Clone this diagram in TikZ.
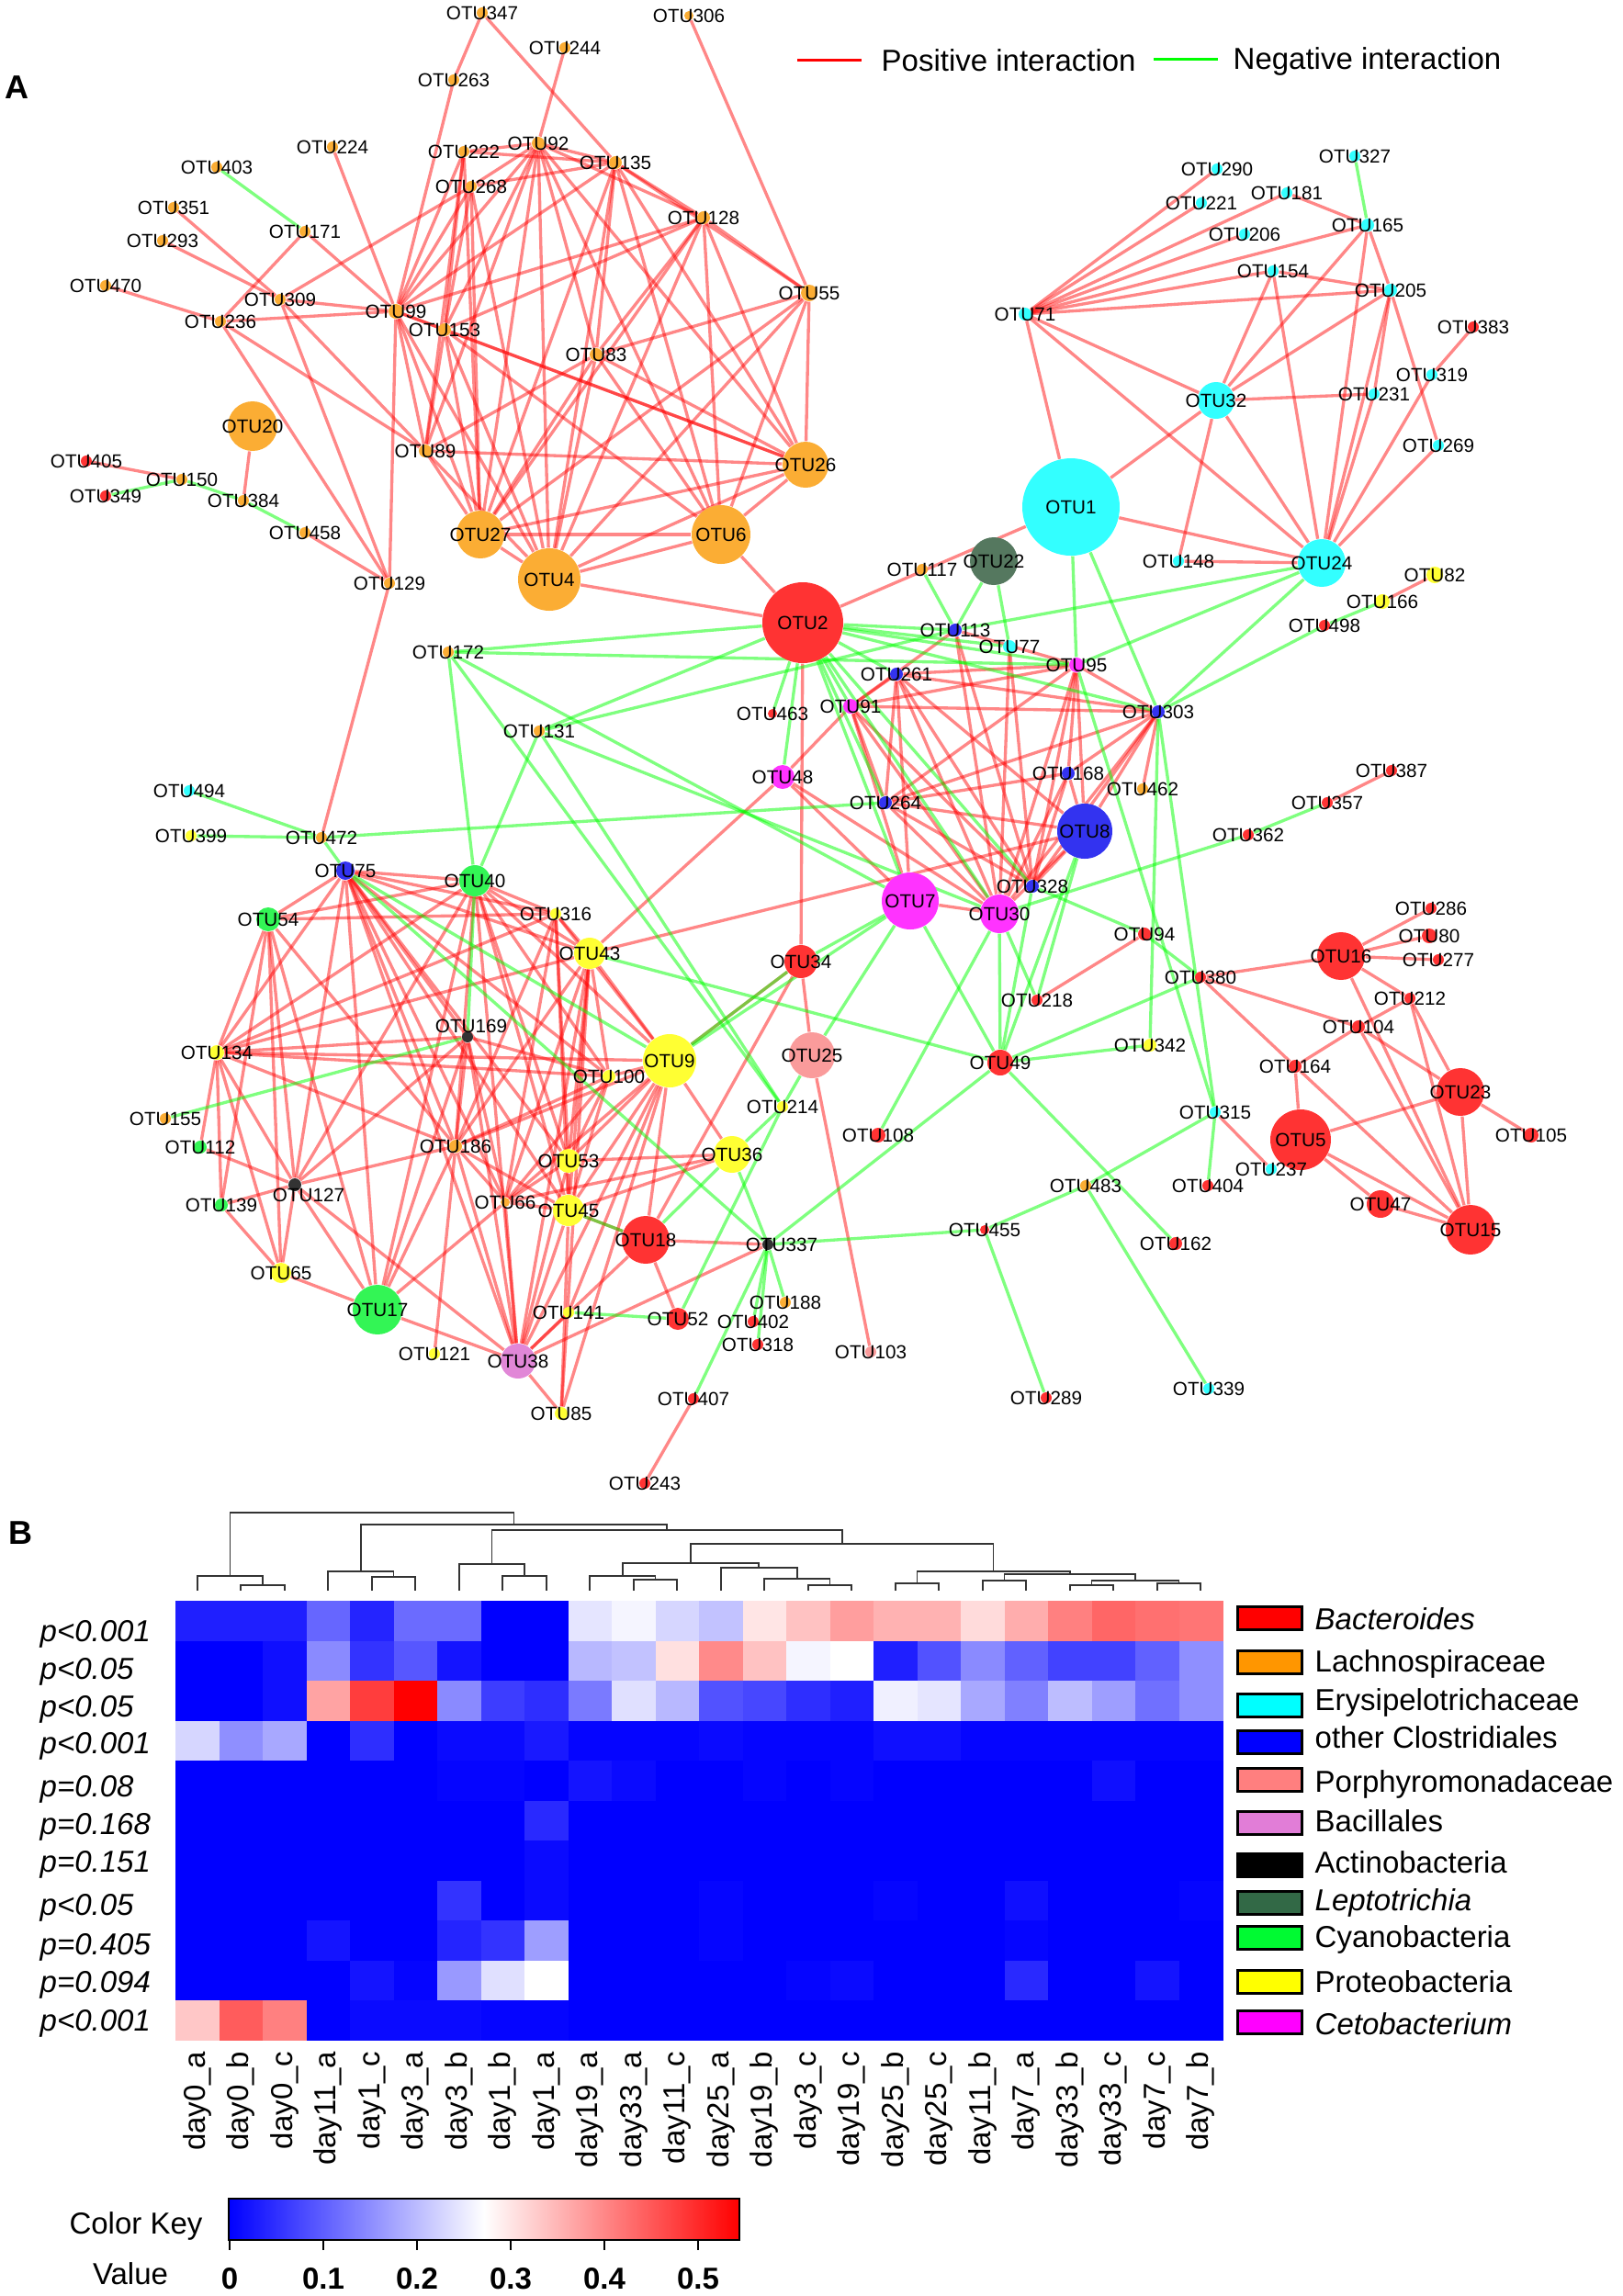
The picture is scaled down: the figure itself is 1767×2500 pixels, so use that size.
\documentclass[tikz,border=0pt]{standalone}
\usepackage{fontspec}
\setmainfont{Liberation Sans}
\pgfdeclarelayer{background}
\pgfsetlayers{background,main}
\definecolor{cRd}{RGB}{255,51,51}
\definecolor{cOr}{RGB}{251,173,52}
\definecolor{cCy}{RGB}{51,255,255}
\definecolor{cBl}{RGB}{51,51,240}
\definecolor{cMg}{RGB}{255,51,255}
\definecolor{cYe}{RGB}{255,255,51}
\definecolor{cGr}{RGB}{51,245,85}
\definecolor{cBk}{RGB}{51,51,51}
\definecolor{cPk}{RGB}{250,155,155}
\definecolor{cOc}{RGB}{225,135,215}
\definecolor{cDg}{RGB}{85,120,95}
\definecolor{lgOr}{RGB}{255,150,0}
\definecolor{lgCy}{RGB}{0,255,255}
\definecolor{lgBl}{RGB}{0,0,255}
\definecolor{lgPo}{RGB}{255,127,127}
\definecolor{lgBa}{RGB}{225,125,215}
\definecolor{lgLe}{RGB}{50,105,70}
\definecolor{lgCb}{RGB}{0,250,50}
\definecolor{lgPr}{RGB}{255,255,0}
\definecolor{lgCe}{RGB}{255,0,255}
\definecolor{lgRd}{RGB}{255,0,0}
\newcommand\otufont{\fontsize{6.2}{7}\selectfont}
\newcommand\legfont{\fontsize{9.9}{11}\selectfont}
\newcommand\panelfont{\fontsize{10.8}{12}\selectfont\bfseries}
\newcommand\otu[5]{\node[circle,inner sep=0pt,minimum size={0.6pt*#4},fill=#5] (o#1) at (#2,#3) {};
  \node[otulab] at (o#1.center) {OTU#1};}
\newcommand\otuS[7]{\node[circle,inner sep=0pt,minimum size={0.6pt*#4},fill=#5] (o#1) at (#2,#3) {};
  \node[otulab,xshift=#6,yshift=#7] at (o#1.center) {OTU#1};}
\newcommand\dendj[5]{\draw[dendro] (#1,#2) -- (#1,#5) -- (#3,#5) -- (#3,#4);}
\begin{document}
\begin{tikzpicture}[x=0.3pt,y=-0.3pt,
  otulab/.style={font=\otufont,inner sep=0pt},
  posedge/.style={draw=red,draw opacity=0.47,line width=1.0pt},
  negedge/.style={draw=green,draw opacity=0.5,line width=1.0pt},
  dendro/.style={draw=black!80,line width=0.5pt}]
\useasboundingbox (0,0) rectangle (1767,2500);

% ---------- panel labels and legend ----------
\node[font=\panelfont,anchor=base west,inner sep=0] (pA) at (5,107) {A};
\node[font=\panelfont,anchor=base west,inner sep=0] (pB) at (9,1681) {B};
\coordinate (lp1) at (868,65); \coordinate (lp2) at (938,65);
\draw[red,line width=0.9pt] (lp1) -- (lp2);
\node[font=\legfont,anchor=base west,inner sep=0] (lpt) at (959,77) {Positive interaction};
\coordinate (ln1) at (1256,64); \coordinate (ln2) at (1326,64);
\draw[green,line width=0.9pt] (ln1) -- (ln2);
\node[font=\legfont,anchor=base west,inner sep=0] (lnt) at (1342,75) {Negative interaction};

% ---------- nodes ----------
% Lachnospiraceae
\otu{347}{525}{14}{6}{cOr}
\otu{263}{494}{87}{6}{cOr}
\otu{224}{362}{160}{6}{cOr}
\otu{403}{236}{182}{6}{cOr}
\otu{351}{189}{226}{6}{cOr}
\otu{293}{177}{262}{6}{cOr}
\otu{171}{332}{252}{6}{cOr}
\otu{470}{115}{311}{6}{cOr}
\otu{309}{305}{326}{6}{cOr}
\otu{236}{240}{350}{6}{cOr}
\otu{99}{431}{339}{8}{cOr}
\otu{153}{484}{359}{7}{cOr}
\otu{222}{505}{165}{6}{cOr}
\otu{268}{513}{203}{6}{cOr}
\otu{20}{275}{464}{27}{cOr}
\otu{89}{463}{491}{7}{cOr}
\otu{150}{198}{522}{6}{cOr}
\otu{384}{265}{545}{6}{cOr}
\otu{306}{750}{17}{5}{cOr}
\otu{244}{615}{52}{6}{cOr}
\otu{92}{586}{156}{7}{cOr}
\otu{135}{670}{177}{7}{cOr}
\otu{128}{766}{237}{7}{cOr}
\otu{55}{881}{319}{9}{cOr}
\otu{83}{649}{386}{7}{cOr}
\otu{26}{877}{506}{25}{cOr}
\otu{27}{523}{582}{26}{cOr}
\otu{6}{785}{582}{32}{cOr}
\otu{4}{598}{631}{34}{cOr}
\otu{458}{332}{580}{6}{cOr}
\otu{129}{424}{635}{6}{cOr}
\otu{172}{488}{710}{6}{cOr}
\otu{131}{587}{796}{6}{cOr}
\otu{472}{350}{912}{6}{cOr}
\otu{117}{1004}{620}{6}{cOr}
\otu{462}{1244}{859}{6}{cOr}
\otu{155}{180}{1218}{6}{cOr}
\otu{186}{496}{1248}{7}{cOr}
\otu{188}{855}{1418}{6}{cOr}
\otu{483}{1182}{1291}{6}{cOr}
\otu{66}{550}{1309}{5}{cOr}
% Bacteroides
\otu{405}{94}{502}{6}{cRd}
\otu{349}{115}{540}{6}{cRd}
\otu{383}{1604}{356}{6}{cRd}
\otu{498}{1442}{681}{6}{cRd}
\otu{387}{1515}{839}{6}{cRd}
\otu{357}{1445}{874}{6}{cRd}
\otu{362}{1359}{909}{6}{cRd}
\otu{286}{1558}{989}{6}{cRd}
\otu{80}{1556}{1019}{8}{cRd}
\otu{277}{1566}{1045}{6}{cRd}
\otu{16}{1460}{1041}{26}{cRd}
\otu{94}{1246}{1017}{7}{cRd}
\otu{380}{1307}{1064}{6}{cRd}
\otu{463}{841}{777}{5}{cRd}
\otu{34}{872}{1047}{18}{cRd}
\otu{218}{1129}{1089}{6}{cRd}
\otu{49}{1089}{1157}{14}{cRd}
\otu{108}{956}{1236}{8}{cRd}
\otu{18}{703}{1350}{26}{cRd}
\otu{52}{738}{1436}{12}{cRd}
\otu{402}{820}{1439}{6}{cRd}
\otu{318}{825}{1464}{6}{cRd}
\otu{407}{755}{1523}{6}{cRd}
\otu{243}{702}{1615}{6}{cRd}
\otu{289}{1139}{1522}{6}{cRd}
\otu{455}{1072}{1339}{5}{cRd}
\otu{212}{1535}{1087}{6}{cRd}
\otu{104}{1479}{1118}{7}{cRd}
\otu{164}{1410}{1161}{7}{cRd}
\otu{23}{1590}{1189}{26}{cRd}
\otu{5}{1416}{1241}{33}{cRd}
\otu{105}{1667}{1236}{8}{cRd}
\otu{404}{1315}{1291}{6}{cRd}
\otu{47}{1503}{1311}{15}{cRd}
\otu{15}{1601}{1339}{27}{cRd}
\otu{162}{1280}{1354}{7}{cRd}
% Erysipelotrichaceae
\otu{71}{1116}{342}{7}{cCy}
\otu{290}{1325}{184}{6}{cCy}
\otu{221}{1308}{221}{6}{cCy}
\otu{181}{1401}{210}{6}{cCy}
\otu{327}{1475}{170}{6}{cCy}
\otu{165}{1489}{245}{7}{cCy}
\otu{206}{1355}{255}{6}{cCy}
\otu{154}{1386}{295}{6}{cCy}
\otu{205}{1514}{316}{7}{cCy}
\otu{319}{1559}{408}{6}{cCy}
\otu{32}{1324}{436}{20}{cCy}
\otu{231}{1496}{429}{6}{cCy}
\otu{269}{1566}{485}{6}{cCy}
\otu{148}{1283}{611}{6}{cCy}
\otu{24}{1439}{613}{26}{cCy}
\otu{77}{1099}{704}{7}{cCy}
\otu{494}{206}{861}{6}{cCy}
\otu{315}{1323}{1211}{6}{cCy}
\otu{237}{1384}{1273}{6}{cCy}
\otu{339}{1316}{1512}{6}{cCy}
\otu{1}{1166}{552}{53}{cCy}
% other Clostridiales
\otu{113}{1040}{686}{7}{cBl}
\otu{261}{976}{734}{7}{cBl}
\otu{303}{1261}{775}{7}{cBl}
\otu{168}{1163}{842}{7}{cBl}
\otu{264}{964}{874}{7}{cBl}
\otu{328}{1124}{965}{7}{cBl}
\otu{75}{376}{948}{10}{cBl}
\otu{8}{1181}{905}{30}{cBl}
% Cetobacterium
\otu{95}{1172}{724}{8}{cMg}
\otu{91}{926}{769}{8}{cMg}
\otu{48}{852}{846}{13}{cMg}
\otu{7}{991}{981}{31}{cMg}
\otu{30}{1088}{995}{21}{cMg}
% Proteobacteria
\otu{82}{1562}{626}{9}{cYe}
\otu{166}{1505}{655}{8}{cYe}
\otu{399}{208}{910}{6}{cYe}
\otu{316}{605}{995}{6}{cYe}
\otu{43}{642}{1038}{17}{cYe}
\otu{9}{729}{1155}{29}{cYe}
\otu{100}{663}{1172}{7}{cYe}
\otu{214}{852}{1205}{6}{cYe}
\otu{36}{797}{1257}{20}{cYe}
\otu{53}{619}{1264}{13}{cYe}
\otu{45}{619}{1318}{17}{cYe}
\otu{342}{1252}{1138}{7}{cYe}
\otu{134}{236}{1146}{8}{cYe}
\otu{65}{306}{1386}{11}{cYe}
\otu{121}{473}{1474}{6}{cYe}
\otu{85}{611}{1539}{7}{cYe}
\otu{141}{619}{1429}{6}{cYe}
% Cyanobacteria
\otu{40}{517}{959}{17}{cGr}
\otu{54}{292}{1001}{13}{cGr}
\otu{17}{411}{1426}{27}{cGr}
\otu{112}{218}{1249}{7}{cGr}
\otu{139}{241}{1312}{7}{cGr}
% Actinobacteria
\otuS{169}{509}{1129}{6}{cBk}{1.2pt}{3.6pt}
\otuS{127}{321}{1290}{7}{cBk}{4.5pt}{-3.3pt}
\otuS{337}{836}{1355}{6}{cBk}{4.5pt}{0pt}
% Porphyromonadaceae, Bacillales, Leptotrichia
\otu{25}{884}{1149}{25}{cPk}
\otu{103}{948}{1472}{6}{cPk}
\otu{38}{564}{1482}{19}{cOc}
\otu{22}{1082}{611}{26}{cDg}
\otu{2}{874}{678}{44}{cRd}

% ---------- edges ----------
\begin{pgfonlayer}{background}
\foreach \a/\b in {347/263,347/135,263/99,224/99,351/309,293/309,171/236,171/99,470/236,236/99,309/99,309/268,236/129,309/129,99/129,309/89,236/89,458/129,129/472,244/92,306/55,20/384,405/150,
99/222,99/268,99/92,99/135,99/128,99/89,99/27,99/4,99/153,99/26,
222/92,222/135,222/153,222/89,222/27,
268/92,268/135,268/153,268/27,268/4,
92/135,92/128,92/83,92/26,92/6,92/4,92/27,92/89,92/153,
135/128,135/55,135/83,135/26,135/6,135/4,135/27,
128/55,128/83,128/4,128/27,128/6,128/26,128/153,
55/26,55/83,55/4,55/27,55/6,
83/26,83/6,83/4,83/27,83/89,
153/26,153/6,153/4,153/27,153/89,
89/26,89/27,89/4,
26/4,26/6,26/27,6/4,6/27,4/27,4/2,6/2,2/1,
71/290,71/221,71/181,71/206,71/165,71/154,71/205,71/32,71/24,71/1,181/165,154/205,165/32,165/205,165/24,154/32,154/24,205/32,205/24,205/231,205/269,32/231,32/1,32/24,32/148,383/319,319/24,231/24,269/24,1/24,148/24,166/82,
16/286,16/80,16/277,16/380,16/212,16/15,380/104,380/164,212/104,212/23,212/15,104/164,104/23,104/15,164/5,164/15,23/5,23/15,23/105,5/47,5/15,47/15,315/237,357/387,94/218,
2/34,95/261,95/91,95/264,95/303,95/168,95/8,95/328,95/30,303/261,303/91,303/264,303/168,303/8,303/328,303/30,303/462,261/91,261/264,261/328,261/30,261/7,261/8,91/264,91/328,91/30,91/7,91/48,264/328,264/30,264/8,264/168,168/328,168/30,168/8,113/91,113/328,113/30,113/95,77/30,77/328,48/30,48/7,48/43,43/8,7/30,328/8,30/8,34/25,34/9,34/18,25/103,407/243,18/52,18/337,38/337,
75/40,75/54,75/316,75/43,75/134,75/127,75/186,75/66,75/100,75/53,75/45,75/17,75/38,75/169,
40/54,40/316,40/43,40/134,40/127,40/186,40/100,40/9,40/53,40/45,40/17,40/38,
54/134,54/127,54/139,54/65,54/17,54/316,54/186,
316/43,316/134,316/9,316/53,316/186,316/66,316/45,
43/9,43/100,43/134,43/53,43/45,43/186,43/66,43/38,
134/112,134/139,134/127,134/169,134/100,134/9,134/186,134/65,
169/100,169/186,169/66,169/17,169/38,169/127,
100/9,100/53,100/45,100/186,100/66,
9/36,9/53,9/45,9/38,9/18,9/141,9/66,9/186,
112/127,139/127,139/65,127/186,127/17,127/38,127/65,
186/66,186/17,186/38,186/121,186/45,
66/38,66/45,66/17,66/53,66/36,
53/36,53/45,53/38,45/36,45/38,45/85,45/18,
65/17,17/38,38/141,38/18,38/85,43/85,9/85}
  \draw[posedge] (o\a) -- (o\b);
\foreach \a/\b in {403/171,349/150,150/384,384/458,327/165,472/494,472/399,472/75,472/264,
172/2,172/95,172/40,172/7,172/214,131/2,131/113,131/40,131/214,131/30,
2/113,2/77,2/95,2/303,2/91,2/48,2/264,2/7,2/30,2/328,2/261,2/463,
117/113,22/113,22/77,1/95,1/303,24/95,24/113,24/303,166/498,498/303,
75/9,75/337,40/169,169/155,43/49,45/18,9/34,9/7,25/7,25/214,36/214,36/18,36/337,
337/455,337/49,337/188,337/402,337/318,337/407,455/483,455/289,483/315,483/339,49/162,
315/404,303/315,303/342,95/315,342/49,380/49,94/380,328/94,30/362,362/357,
49/7,49/30,49/328,49/8,30/108,30/218,8/218,7/34,141/52,52/214}
  \draw[negedge] (o\a) -- (o\b);
\end{pgfonlayer}

% ---------- panel B: dendrogram ----------
\dendj{262.25}{1732}{309.75}{1732}{1726}
\dendj{214.75}{1732}{286}{1726}{1716}
\dendj{404.75}{1732}{452.25}{1732}{1717}
\dendj{357.25}{1732}{428.5}{1717}{1711}
\dendj{547.25}{1732}{594.75}{1732}{1716}
\dendj{499.75}{1732}{571}{1716}{1703}
\dendj{689.75}{1732}{737.25}{1732}{1720}
\dendj{642.25}{1732}{713.5}{1720}{1716}
\dendj{879.75}{1732}{927.25}{1732}{1726}
\dendj{832.25}{1732}{903.5}{1726}{1719}
\dendj{784.75}{1732}{867.9}{1719}{1707}
\dendj{677.9}{1716}{826.3}{1707}{1702}
\dendj{974.75}{1732}{1022.25}{1732}{1724}
\dendj{1069.75}{1732}{1117.25}{1732}{1721}
\dendj{1164.75}{1732}{1212.25}{1732}{1726}
\dendj{1259.75}{1732}{1307.25}{1732}{1724}
\dendj{1188.5}{1726}{1283.5}{1724}{1721}
\dendj{1093.5}{1721}{1236}{1721}{1714}
\dendj{998.5}{1724}{1164.75}{1714}{1711}
\dendj{752.1}{1702}{1081.6}{1711}{1681}
\dendj{535.4}{1703}{916.9}{1681}{1666}
\dendj{392.9}{1711}{726.1}{1666}{1660}
\dendj{250.4}{1716}{559.5}{1660}{1647}

% ---------- heatmap ----------
\foreach \rowvals [count=\r from 0] in {
{6,6,6,20,7,21,21,0,0,45,48,42,38,55,62,69,65,65,57,66,75,80,78,77},
{0,0,3,27,10,17,4,0,0,36,38,56,73,62,48,50,6,16,27,19,13,13,19,28},
{0,0,3,68,88,100,27,12,9,24,44,36,16,14,9,6,47,45,33,25,37,31,22,28},
{42,28,33,0,9,0,2,2,5,1,1,1,2,1,1,1,3,3,1,1,1,1,1,1},
{0,0,0,0,0,0,1,1,0,4,2,0,0,1,0,1,0,0,0,0,0,3,0,0},
{0,0,0,0,0,0,0,0,8,0,0,0,0,0,0,0,0,0,0,0,0,0,0,0},
{0,0,0,0,0,0,0,0,2,0,0,0,0,0,0,0,0,0,0,0,0,0,0,0},
{0,0,0,0,0,0,10,0,2,0,0,0,1,0,0,0,1,0,0,3,0,0,0,1},
{0,0,0,4,0,0,7,10,31,0,0,0,1,0,0,0,0,0,0,1,0,0,0,0},
{0,0,0,0,4,1,30,44,50,0,0,0,0,0,1,2,0,0,0,8,0,0,4,0},
{61,82,75,0,2,2,2,1,1,0,0,0,0,0,0,0,0,0,0,0,0,0,0,0}}{
  \foreach \t [count=\c from 0] in \rowvals {
    \pgfmathsetmacro\xa{191+47.5*\c}
    \pgfmathsetmacro\ya{1743+43.5*\r}
    \ifnum\t>50
      \pgfmathsetmacro\mx{2*\t-100}
      \fill[red!\mx!white] (\xa,\ya) rectangle ++(48.2,44.2);
    \else
      \pgfmathsetmacro\mx{100-2*\t}
      \fill[blue!\mx!white] (\xa,\ya) rectangle ++(48.2,44.2);
    \fi
  }
}

% row labels
\foreach \lab/\yy in {p<0.001/1775,p<0.05/1816,p<0.05/1857,p<0.001/1897,p=0.08/1944,p=0.168/1985,p=0.151/2026,p<0.05/2073,p=0.405/2116,p=0.094/2157,p<0.001/2199}
  \node[anchor=base west,font=\legfont\itshape,inner sep=0] at (43,\yy+12) {\lab};

% column labels
\foreach \lab [count=\c from 0] in {day0\_a,day0\_b,day0\_c,day11\_a,day1\_c,day3\_a,day3\_b,day1\_b,day1\_a,day19\_a,day33\_a,day11\_c,day25\_a,day19\_b,day3\_c,day19\_c,day25\_b,day25\_c,day11\_b,day7\_a,day33\_b,day33\_c,day7\_c,day7\_b}
  \node[rotate=90,anchor=east,font=\legfont,inner sep=0] at ({214.75+47.5*\c},2233) {\lab};

% taxon legend
\foreach \yy/\ty/\cc/\lab in {1762/1762/lgRd/\textit{Bacteroides},1810/1808/lgOr/Lachnospiraceae,1857/1850/lgCy/Erysipelotrichaceae,1897/1891/lgBl/other Clostridiales,1938/1939/lgPo/Porphyromonadaceae,1985/1982/lgBa/Bacillales,2031/2027/black/Actinobacteria,2072/2068/lgLe/\textit{Leptotrichia},2110/2108/lgCb/Cyanobacteria,2158/2157/lgPr/Proteobacteria,2202/2203/lgCe/\textit{Cetobacterium}}{
  \draw[line width=0.9pt,fill=\cc] (1347,\yy-12.5) rectangle (1417,\yy+12.5);
  \node[anchor=base west,font=\legfont,inner sep=0] at (1431,\ty+12) {\lab};
}

% color key
\node[anchor=base,font=\legfont,inner sep=0] (ck) at (148,2432) {Color Key};
\node[anchor=base,font=\legfont,inner sep=0] (ckv) at (142,2487) {Value};
\shade[left color=blue,right color=white] (249,2394) rectangle (527,2439);
\shade[left color=white,right color=red] (527,2394) rectangle (805,2439);
\draw[line width=0.6pt] (249,2394) rectangle (805,2439);
\foreach \v/\x in {0/250,0.1/352,0.2/454,0.3/556,0.4/658,0.5/760}{
  \draw[line width=0.6pt] (\x,2439) -- (\x,2450);
  \node[anchor=base,font=\legfont\bfseries,inner sep=0] at (\x,2492) {\v};
}
\end{tikzpicture}
\end{document}
